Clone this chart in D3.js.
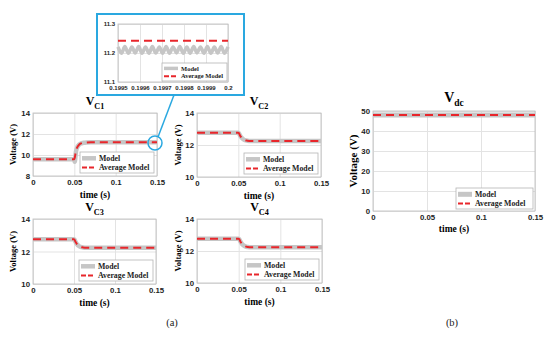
<!DOCTYPE html>
<html>
<head>
<meta charset="utf-8">
<script src="https://cdn.jsdelivr.net/npm/d3@7"></script>
<style>
  body { margin: 0; background: #fff; }
  svg { display: block; font-family: "Liberation Serif", "DejaVu Serif", serif; }
  .tick line { stroke: #e3e3e3; }
  .tick text { fill: #222; font-weight: bold; }
  .domain { display: none; }
</style>
</head>
<body>
<script>
// time axis of the four capacitor panels (s)
const panelTime = [0, 0.0499, 0.0505, 0.052, 0.054, 0.056, 0.058, 0.061, 0.065, 0.07, 0.08, 0.1, 0.15];

const vc1Model   = [9.6, 9.6, 9.35, 10.35, 10.8, 11.0, 11.1, 11.16, 11.2, 11.22, 11.22, 11.22, 11.22];
const vc1Average = [9.6, 9.6, 9.75, 10.4, 10.8, 11.0, 11.1, 11.16, 11.2, 11.22, 11.22, 11.22, 11.22];
const vc2Model   = [12.77, 12.77, 12.75, 12.6, 12.45, 12.36, 12.3, 12.27, 12.25, 12.25, 12.25, 12.25, 12.25];
const vc2Average = [12.77, 12.77, 12.75, 12.6, 12.45, 12.36, 12.3, 12.27, 12.25, 12.25, 12.25, 12.25, 12.25];
const vc3Model   = [12.75, 12.75, 12.73, 12.58, 12.43, 12.34, 12.28, 12.25, 12.23, 12.23, 12.23, 12.23, 12.23];
const vc3Average = [12.75, 12.75, 12.73, 12.58, 12.43, 12.34, 12.28, 12.25, 12.23, 12.23, 12.23, 12.23, 12.23];
const vc4Model   = [12.77, 12.77, 12.75, 12.6, 12.44, 12.35, 12.29, 12.25, 12.23, 12.23, 12.23, 12.23, 12.23];
const vc4Average = [12.77, 12.77, 12.75, 12.6, 12.44, 12.35, 12.29, 12.25, 12.23, 12.23, 12.23, 12.23, 12.23];

const vdcTime    = [0, 0.15];
const vdcModel   = [48, 48];
const vdcAverage = [48, 48];

// zoomed window of V_C1 at the end of the run
const insetTime = [0.1995, 0.199516, 0.199531, 0.199547, 0.199563, 0.199578, 0.199594, 0.199609, 0.199625,
  0.199641, 0.199656, 0.199672, 0.199688, 0.199703, 0.199719, 0.199734, 0.19975, 0.199766, 0.199781,
  0.199797, 0.199813, 0.199828, 0.199844, 0.199859, 0.199875, 0.199891, 0.199906, 0.199922, 0.199938,
  0.199953, 0.199969, 0.199984, 0.2];
const insetModel = [11.221, 11.199, 11.222, 11.199, 11.221, 11.2, 11.222, 11.199, 11.221, 11.199, 11.222,
  11.2, 11.221, 11.199, 11.222, 11.199, 11.221, 11.2, 11.222, 11.199, 11.221, 11.199, 11.222, 11.2,
  11.221, 11.199, 11.222, 11.199, 11.221, 11.2, 11.222, 11.199, 11.221];
const insetAverage = insetModel.map(() => 11.242);

const panelXTicks = [0, 0.05, 0.1, 0.15];
const insetXTicks = [0.1995, 0.1996, 0.1997, 0.1998, 0.1999, 0.2];
const legendLabels = ['Model', 'Average Model'];

const grayColor = '#c6c6c6';
const redColor = '#e8262b';
const blueColor = '#2aa8e0';

const fmt = d => String(+d.toFixed(4));

const svg = d3.select('body').append('svg')
        .attr('width', 550)
        .attr('height', 341);

function drawPanel(opt) {
    const g = svg.append('g');
    const x = d3.scaleLinear().domain(opt.xDomain).range([opt.left, opt.right]);
    const y = d3.scaleLinear().domain(opt.yDomain).range([opt.bottom, opt.top]);
    const w = opt.right - opt.left;
    const h = opt.bottom - opt.top;

    g.append('rect')
        .attr('x', opt.left).attr('y', opt.top)
        .attr('width', w).attr('height', h)
        .attr('fill', '#fff');

    g.append('g')
        .attr('transform', `translate(0,${opt.bottom})`)
        .call(d3.axisBottom(x).tickValues(opt.xTicks).tickSizeInner(-h).tickSizeOuter(0)
            .tickPadding(opt.xPad || 3).tickFormat(fmt))
        .call(a => a.selectAll('text').attr('font-size', opt.tickSize).attr('font-family', null));

    g.append('g')
        .attr('transform', `translate(${opt.left},0)`)
        .call(d3.axisLeft(y).tickValues(opt.yTicks).tickSizeInner(-w).tickSizeOuter(0)
            .tickPadding(3).tickFormat(fmt))
        .call(a => a.selectAll('text').attr('font-size', opt.tickSize).attr('font-family', null));

    g.append('rect')
        .attr('x', opt.left).attr('y', opt.top)
        .attr('width', w).attr('height', h)
        .attr('fill', 'none')
        .attr('stroke', '#bcbcbc')
        .attr('stroke-width', 0.8);

    const line = d3.line()
        .x((d, i) => x(opt.time[i]))
        .y(d => y(d))
        .curve(opt.curve || d3.curveMonotoneX);

    g.append('path')
        .datum(opt.model)
        .attr('d', line)
        .attr('fill', 'none')
        .attr('stroke', grayColor)
        .attr('stroke-width', opt.grayWidth || 4.5);

    g.append('path')
        .datum(opt.average)
        .attr('d', line)
        .attr('fill', 'none')
        .attr('stroke', redColor)
        .attr('stroke-width', opt.redWidth || 2)
        .attr('stroke-dasharray', opt.dash || '8,5');

    if (opt.title) {
        const t = g.append('text')
            .attr('x', (opt.left + opt.right) / 2)
            .attr('y', opt.top - opt.titleGap)
            .attr('text-anchor', 'middle')
            .attr('font-weight', 'bold')
            .attr('font-size', opt.titleSize);
        t.append('tspan').text('V');
        t.append('tspan').attr('dy', opt.titleSize * 0.3)
            .attr('font-size', opt.titleSize * 0.68).text(opt.title);
    }

    if (opt.xLabel) {
        g.append('text')
            .attr('x', (opt.left + opt.right) / 2)
            .attr('y', opt.bottom + opt.xLabelGap)
            .attr('text-anchor', 'middle')
            .attr('font-weight', 'bold')
            .attr('font-size', 9.5)
            .text('time (s)');
    }

    if (opt.yLabel) {
        g.append('text')
            .attr('transform', `translate(${opt.left - opt.yLabelGap},${(opt.top + opt.bottom) / 2}) rotate(-90)`)
            .attr('text-anchor', 'middle')
            .attr('font-weight', 'bold')
            .attr('font-size', opt.yLabelSize)
            .text('Voltage (V)');
    }

    // legend, bottom right corner
    const lg = opt.legend;
    const lx = opt.right - lg.inset - lg.w;
    const ly = opt.bottom - lg.inset - lg.h;
    const leg = g.append('g').attr('transform', `translate(${lx},${ly})`);
    leg.append('rect')
        .attr('width', lg.w).attr('height', lg.h)
        .attr('fill', '#fff')
        .attr('stroke', '#b5b5b5')
        .attr('stroke-width', 0.8);
    legendLabels.forEach((label, i) => {
        const yy = lg.h * (i === 0 ? 0.3 : 0.74);
        leg.append('line')
            .attr('x1', 2).attr('x2', lg.sample)
            .attr('y1', yy).attr('y2', yy)
            .attr('stroke', i === 0 ? grayColor : redColor)
            .attr('stroke-width', i === 0 ? (opt.grayWidth || 4.5) : (opt.redWidth || 2))
            .attr('stroke-dasharray', i === 0 ? null : lg.dash);
        leg.append('text')
            .attr('x', lg.sample + 3)
            .attr('y', yy + lg.font * 0.33)
            .attr('font-weight', 'bold')
            .attr('font-size', lg.font)
            .attr('fill', '#222')
            .text(label);
    });
}

const smallLegend = { w: 74, h: 21, inset: 3, sample: 16, font: 7.8, dash: '5,2' };

drawPanel({ left: 33, right: 157, top: 113, bottom: 176, xDomain: [0, 0.15], yDomain: [8, 14],
    xTicks: panelXTicks, yTicks: [8, 10, 12, 14], time: panelTime, model: vc1Model, average: vc1Average,
    title: 'C1', titleSize: 12, titleGap: 8, xLabel: true, xLabelGap: 22, yLabel: true, yLabelGap: 17,
    yLabelSize: 8.5, tickSize: 7.8, legend: smallLegend });

drawPanel({ left: 197, right: 321, top: 113, bottom: 177, xDomain: [0, 0.15], yDomain: [10, 14],
    xTicks: panelXTicks, yTicks: [10, 12, 14], time: panelTime, model: vc2Model, average: vc2Average,
    title: 'C2', titleSize: 12, titleGap: 8, xLabel: true, xLabelGap: 22, yLabel: true, yLabelGap: 16,
    yLabelSize: 8.5, tickSize: 7.8, legend: smallLegend });

drawPanel({ left: 33, right: 156, top: 219, bottom: 284, xDomain: [0, 0.15], yDomain: [10, 14],
    xTicks: panelXTicks, yTicks: [10, 12, 14], time: panelTime, model: vc3Model, average: vc3Average,
    title: 'C3', titleSize: 12, titleGap: 8, xLabel: true, xLabelGap: 22, yLabel: true, yLabelGap: 17,
    yLabelSize: 8.5, tickSize: 7.8, legend: smallLegend });

drawPanel({ left: 197, right: 322, top: 219, bottom: 283, xDomain: [0, 0.15], yDomain: [10, 14],
    xTicks: panelXTicks, yTicks: [10, 12, 14], time: panelTime, model: vc4Model, average: vc4Average,
    title: 'C4', titleSize: 12, titleGap: 8, xLabel: true, xLabelGap: 22, yLabel: true, yLabelGap: 16,
    yLabelSize: 8.5, tickSize: 7.8, legend: smallLegend });

drawPanel({ left: 373, right: 535, top: 111, bottom: 211, xDomain: [0, 0.15], yDomain: [0, 50],
    xTicks: panelXTicks, yTicks: [0, 10, 20, 30, 40, 50], time: vdcTime, model: vdcModel, average: vdcAverage,
    curve: d3.curveLinear, grayWidth: 5,
    title: 'dc', titleSize: 14, titleGap: 9, xLabel: true, xLabelGap: 21, yLabel: true, yLabelGap: 16,
    yLabelSize: 11, tickSize: 7.8, legend: { w: 77, h: 21, inset: 2, sample: 16, font: 7.8, dash: '5,2' } });

// zoom box with pointer to the end of V_C1
svg.append('rect')
    .attr('x', 97).attr('y', 14)
    .attr('width', 147).attr('height', 81)
    .attr('fill', '#fff')
    .attr('stroke', blueColor)
    .attr('stroke-width', 2);

drawPanel({ left: 118, right: 228, top: 24, bottom: 82, xDomain: [0.1995, 0.2], yDomain: [11.1, 11.3],
    xTicks: insetXTicks, yTicks: [11.1, 11.2, 11.3], time: insetTime, model: insetModel, average: insetAverage,
    curve: d3.curveCardinal, grayWidth: 3.5, tickSize: 6, xPad: 4,
    legend: { w: 65, h: 18, inset: 1, sample: 16, font: 6.5, dash: '5,2' } });

svg.append('line')
    .attr('x1', 174).attr('y1', 95)
    .attr('x2', 158).attr('y2', 137)
    .attr('stroke', blueColor)
    .attr('stroke-width', 1.5);

svg.append('circle')
    .attr('cx', 155).attr('cy', 143)
    .attr('r', 7)
    .attr('fill', 'none')
    .attr('stroke', blueColor)
    .attr('stroke-width', 1.5);

svg.append('text')
    .attr('x', 172).attr('y', 326)
    .attr('text-anchor', 'middle')
    .attr('font-size', 10.5)
    .attr('fill', '#222')
    .text('(a)');

svg.append('text')
    .attr('x', 452).attr('y', 326)
    .attr('text-anchor', 'middle')
    .attr('font-size', 10.5)
    .attr('fill', '#222')
    .text('(b)');
</script>
</body>
</html>
